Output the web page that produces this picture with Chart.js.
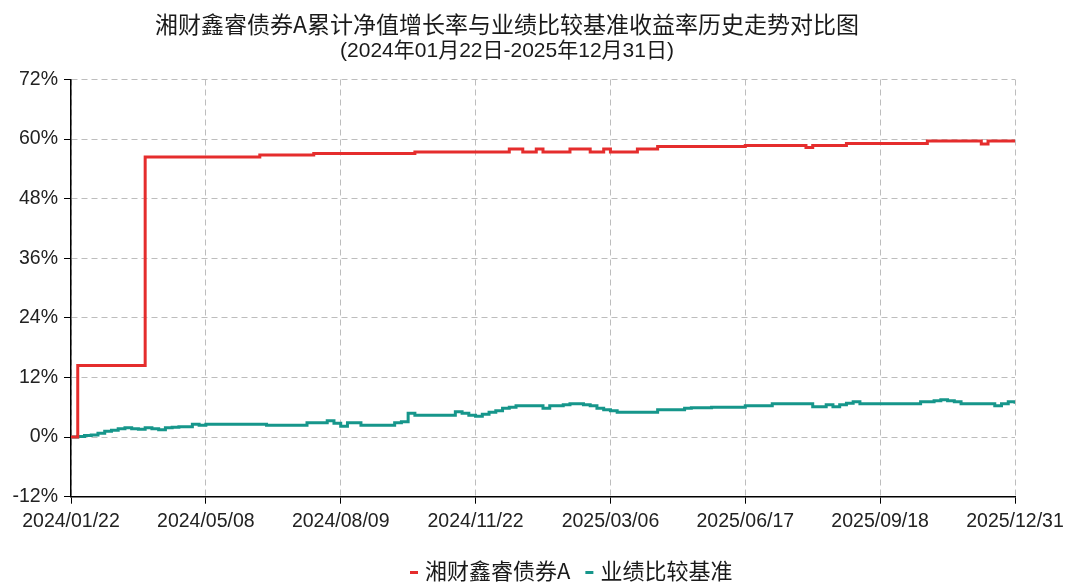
<!DOCTYPE html>
<html>
<head>
<meta charset="utf-8">
<script src="https://cdn.jsdelivr.net/npm/chart.js@4/dist/chart.umd.min.js"></script>
<style>
  html, body { margin: 0; padding: 0; background: #fff; }
  #wrap { width: 1067px; height: 583px; }
</style>
</head>
<body>
<div id="wrap"><canvas id="c" width="1067" height="583"></canvas></div>
<script>
// ---- data ----
const titleLines = ['湘财鑫睿债券A累计净值增长率与业绩比较基准收益率历史走势对比图', '(2024年01月22日-2025年12月31日)'];
const seriesNames = ['湘财鑫睿债券A', '业绩比较基准'];
const xTickLabels = ['2024/01/22', '2024/05/08', '2024/08/09', '2024/11/22', '2025/03/06', '2025/06/17', '2025/09/18', '2025/12/31'];
const yTicks = [-12, 0, 12, 24, 36, 48, 60, 72];

// fund cumulative NAV growth (%), sampled evenly across the period
const fundValues = [
  0, 14.4, 14.4, 14.4, 14.4, 14.4, 14.4, 14.4, 14.4, 14.4,
  14.4, 56.4, 56.4, 56.4, 56.4, 56.4, 56.4, 56.4, 56.4, 56.4,
  56.4, 56.4, 56.4, 56.4, 56.4, 56.4, 56.4, 56.4, 56.8, 56.8,
  56.8, 56.8, 56.8, 56.8, 56.8, 56.8, 57.1, 57.1, 57.1, 57.1,
  57.1, 57.1, 57.1, 57.1, 57.1, 57.1, 57.1, 57.1, 57.1, 57.1,
  57.1, 57.4, 57.4, 57.4, 57.4, 57.4, 57.4, 57.4, 57.4, 57.4,
  57.4, 57.4, 57.4, 57.4, 57.4, 58.0, 58.0, 57.4, 57.4, 58.0,
  57.4, 57.4, 57.4, 57.4, 58.0, 58.0, 58.0, 57.4, 57.4, 58.0,
  57.4, 57.4, 57.4, 57.4, 58.0, 58.0, 58.0, 58.5, 58.5, 58.5,
  58.5, 58.5, 58.5, 58.5, 58.5, 58.5, 58.5, 58.5, 58.5, 58.5,
  58.7, 58.7, 58.7, 58.7, 58.7, 58.7, 58.7, 58.7, 58.7, 58.3,
  58.7, 58.7, 58.7, 58.7, 58.7, 59.1, 59.1, 59.1, 59.1, 59.1,
  59.1, 59.1, 59.1, 59.1, 59.1, 59.1, 59.1, 59.6, 59.6, 59.6,
  59.6, 59.6, 59.6, 59.6, 59.6, 59.0, 59.6, 59.6, 59.6, 59.6,
  59.6
];

// benchmark return (%)
const benchValues = [
  0, 0.1, 0.3, 0.4, 0.8, 1.2, 1.4, 1.7, 1.9, 1.7,
  1.6, 1.9, 1.7, 1.5, 1.9, 2.0, 2.1, 2.1, 2.6, 2.4,
  2.6, 2.6, 2.6, 2.6, 2.6, 2.6, 2.6, 2.6, 2.6, 2.4,
  2.4, 2.4, 2.4, 2.4, 2.4, 2.9, 2.9, 2.9, 3.3, 2.8,
  2.2, 2.9, 2.9, 2.4, 2.4, 2.4, 2.4, 2.4, 2.9, 3.1,
  4.8, 4.4, 4.4, 4.4, 4.4, 4.4, 4.4, 5.1, 4.8, 4.4,
  4.2, 4.6, 5.0, 5.3, 5.8, 6.0, 6.3, 6.3, 6.3, 6.3,
  5.8, 6.3, 6.3, 6.5, 6.7, 6.7, 6.5, 6.3, 5.8, 5.5,
  5.3, 5.0, 5.0, 5.0, 5.0, 5.0, 5.0, 5.5, 5.5, 5.5,
  5.5, 5.8, 5.9, 5.9, 5.9, 6.0, 6.0, 6.0, 6.0, 6.0,
  6.3, 6.3, 6.3, 6.3, 6.7, 6.7, 6.7, 6.7, 6.7, 6.7,
  6.1, 6.1, 6.5, 6.1, 6.5, 6.8, 7.1, 6.7, 6.7, 6.7,
  6.7, 6.7, 6.7, 6.7, 6.7, 6.7, 7.1, 7.1, 7.3, 7.5,
  7.3, 7.1, 6.7, 6.7, 6.7, 6.7, 6.7, 6.3, 6.7, 7.1,
  6.7
];

const colors = ['#e52d2d', '#16968b'];

// ---- chart ----
const lastIndex = fundValues.length - 1;
const tickEvery = lastIndex / (xTickLabels.length - 1);
const indexLabels = fundValues.map((_, i) => i);

const overlay = {
  id: 'overlay',
  afterDraw(chart) {
    const ctx = chart.ctx;
    ctx.save();
    ctx.textAlign = 'center';
    ctx.textBaseline = 'middle';
    ctx.fillStyle = '#1a1a1a';
    ctx.font = '23px "Noto Sans CJK SC", sans-serif';
    ctx.fillText(titleLines[0], 507, 24);
    ctx.font = '21px "Liberation Sans", "Noto Sans CJK SC", sans-serif';
    ctx.fillText(titleLines[1], 507, 51);

    // legend
    ctx.textAlign = 'left';
    ctx.font = '22px "Noto Sans CJK SC", sans-serif';
    const legendY = 571;
    let x = 410;
    chart.data.datasets.forEach((ds, i) => {
      ctx.fillStyle = ds.borderColor;
      ctx.fillRect(x, legendY, 8, 3);
      x += 15;
      ctx.fillStyle = '#1a1a1a';
      ctx.fillText(ds.label, x, legendY);
      x += ctx.measureText(ds.label).width + 15;
    });
    ctx.restore();
  }
};

new Chart(document.getElementById('c'), {
  type: 'line',
  data: {
    labels: indexLabels,
    datasets: [
      { label: seriesNames[0], data: fundValues, borderColor: colors[0], backgroundColor: colors[0], borderWidth: 3, pointRadius: 0, stepped: true, fill: false },
      { label: seriesNames[1], data: benchValues, borderColor: colors[1], backgroundColor: colors[1], borderWidth: 3, pointRadius: 0, stepped: true, fill: false }
    ]
  },
  options: {
    responsive: false,
    animation: false,
    devicePixelRatio: 1,
    layout: { padding: { top: 79.5, right: 52, bottom: 40, left: 0 } },
    plugins: { legend: { display: false }, title: { display: false }, tooltip: { enabled: false } },
    scales: {
      x: {
        type: 'linear',
        min: 0,
        max: lastIndex,
        afterBuildTicks(scale) {
          scale.ticks = xTickLabels.map((_, k) => ({ value: k * tickEvery }));
        },
        afterFit(scale) {
          scale.height = 46.3;
          scale.paddingLeft = 0;
          scale.paddingRight = 0;
        },
        ticks: {
          autoSkip: false,
          maxRotation: 0,
          minRotation: 0,
          padding: 6,
          color: '#222',
          font: { family: '"Liberation Sans", Arial, sans-serif', size: 19.5 },
          callback: (v) => xTickLabels[Math.round(v / tickEvery)]
        },
        grid: { color: '#bdbdbd', lineWidth: 1, tickLength: 7, tickColor: '#000', tickWidth: 1 },
        border: { display: true, color: '#000', width: 1.5, dash: [6, 4] }
      },
      y: {
        min: -12,
        max: 72,
        afterBuildTicks(scale) {
          scale.ticks = yTicks.map(v => ({ value: v }));
        },
        afterFit(scale) { scale.width = 71; },
        ticks: {
          padding: 6,
          color: '#222',
          font: { family: '"Liberation Sans", Arial, sans-serif', size: 19.5 },
          callback: (v) => v + '%'
        },
        grid: { color: '#bdbdbd', lineWidth: 1, tickLength: 7, tickColor: '#000', tickWidth: 1 },
        border: { display: true, color: '#000', width: 1.5, dash: [6, 4] }
      }
    }
  },
  plugins: [overlay]
});
</script>
</body>
</html>
